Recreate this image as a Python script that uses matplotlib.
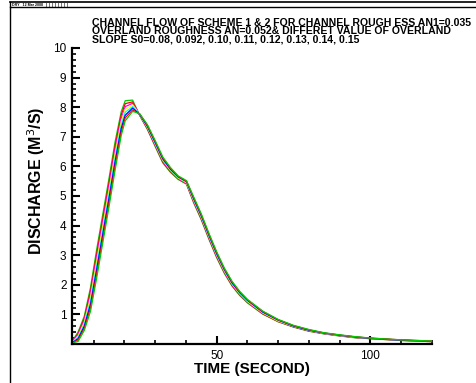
import matplotlib
matplotlib.use("Agg")
import matplotlib.pyplot as plt
from matplotlib.lines import Line2D
from matplotlib.ticker import MultipleLocator, FixedLocator

plt.rcParams['font.family'] = ['Liberation Sans', 'DejaVu Sans']

times = [3, 5, 7, 9, 11, 13, 15, 17, 19, 20.3, 22.7, 25, 27.5, 30, 32.5, 35, 37.5,
         40.2, 42.5, 45, 47.5, 50, 52.5, 55, 57.5, 60, 65, 70, 75, 80, 85, 90, 95,
         100, 105, 110, 115, 120]

slopes = ["0.15", "0.14", "0.13", "0.12", "0.11", "0.10", "0.092", "0.08"]

q_015 = [0.08, 0.41, 0.94, 1.90, 3.18, 4.38, 5.58, 6.83, 7.85, 8.22, 8.24, 7.72, 7.25,
         6.68, 6.12, 5.80, 5.56, 5.40, 4.78, 4.20, 3.54, 2.92, 2.39, 1.96, 1.64, 1.39,
         1.01, 0.75, 0.57, 0.43, 0.34, 0.27, 0.21, 0.18, 0.15, 0.12, 0.10, 0.08]
q_014 = [0.07, 0.36, 0.87, 1.79, 3.04, 4.24, 5.44, 6.69, 7.74, 8.12, 8.18, 7.73, 7.27,
         6.71, 6.15, 5.82, 5.58, 5.42, 4.81, 4.23, 3.57, 2.95, 2.42, 1.98, 1.66, 1.41,
         1.02, 0.76, 0.58, 0.44, 0.35, 0.28, 0.22, 0.18, 0.15, 0.12, 0.10, 0.08]
q_013 = [0.06, 0.32, 0.80, 1.67, 2.90, 4.10, 5.30, 6.55, 7.62, 8.02, 8.13, 7.74, 7.30,
         6.74, 6.18, 5.85, 5.59, 5.43, 4.84, 4.26, 3.60, 2.98, 2.44, 2.01, 1.68, 1.42,
         1.04, 0.77, 0.59, 0.45, 0.35, 0.28, 0.22, 0.19, 0.16, 0.13, 0.11, 0.09]
q_012 = [0.05, 0.27, 0.73, 1.56, 2.77, 3.97, 5.17, 6.42, 7.51, 7.93, 8.08, 7.75, 7.32,
         6.77, 6.21, 5.87, 5.61, 5.45, 4.87, 4.29, 3.63, 3.01, 2.47, 2.03, 1.70, 1.44,
         1.05, 0.78, 0.60, 0.46, 0.36, 0.29, 0.23, 0.19, 0.16, 0.13, 0.11, 0.09]
q_011 = [0.05, 0.23, 0.67, 1.45, 2.63, 3.83, 5.03, 6.28, 7.40, 7.83, 8.02, 7.75, 7.34,
         6.79, 6.23, 5.89, 5.63, 5.47, 4.89, 4.31, 3.65, 3.03, 2.49, 2.05, 1.72, 1.46,
         1.07, 0.80, 0.60, 0.46, 0.36, 0.29, 0.23, 0.19, 0.16, 0.13, 0.11, 0.09]
q_010 = [0.04, 0.18, 0.60, 1.33, 2.50, 3.70, 4.90, 6.15, 7.28, 7.73, 7.97, 7.76, 7.36,
         6.82, 6.26, 5.91, 5.65, 5.49, 4.92, 4.34, 3.68, 3.06, 2.52, 2.07, 1.74, 1.48,
         1.08, 0.81, 0.61, 0.47, 0.37, 0.30, 0.24, 0.19, 0.16, 0.13, 0.11, 0.09]
q_0092 = [0.04, 0.14, 0.53, 1.22, 2.36, 3.56, 4.76, 6.01, 7.17, 7.64, 7.91, 7.77, 7.39,
          6.85, 6.29, 5.94, 5.66, 5.50, 4.95, 4.37, 3.71, 3.09, 2.54, 2.10, 1.76, 1.49,
          1.10, 0.82, 0.62, 0.48, 0.37, 0.30, 0.24, 0.20, 0.17, 0.14, 0.12, 0.10]
q_008 = [0.03, 0.09, 0.46, 1.10, 2.22, 3.42, 4.62, 5.87, 7.05, 7.54, 7.86, 7.78, 7.41,
         6.88, 6.32, 5.96, 5.68, 5.52, 4.98, 4.40, 3.74, 3.12, 2.57, 2.12, 1.78, 1.51,
         1.11, 0.83, 0.63, 0.49, 0.38, 0.31, 0.25, 0.20, 0.17, 0.14, 0.12, 0.10]

series = [q_015, q_014, q_013, q_012, q_011, q_010, q_0092, q_008]
colors = ["#00cc00", "#ff0000", "#ff00ff", "#ffff00", "#00ffff", "#0000ff", "#ff0000", "#00cc00"]

fig = plt.figure(figsize=(4.77, 3.83), dpi=100)
ax = fig.add_axes([72 / 477, 39 / 383, 360 / 477, 296 / 383])

for q, c, s in zip(series, colors, slopes):
    ax.plot(times, q, color=c, lw=0.9, label="S0=" + s)

ax.set_xlim(3, 120)
ax.set_ylim(0, 10)
ax.spines['top'].set_visible(False)
ax.spines['right'].set_visible(False)
ax.spines['left'].set_linewidth(1.6)
ax.spines['bottom'].set_linewidth(1.6)

ax.xaxis.set_major_locator(FixedLocator([50, 100]))
ax.xaxis.set_minor_locator(FixedLocator([10, 20, 30, 40, 60, 70, 80, 90, 110, 120]))
ax.yaxis.set_major_locator(FixedLocator([1, 2, 3, 4, 5, 6, 7, 8, 9, 10]))
ax.yaxis.set_minor_locator(MultipleLocator(0.2))
ax.tick_params(which='major', direction='in', length=6, width=1.5, labelsize=8.5)
ax.tick_params(which='minor', direction='in', length=3, width=1.2)
ax.tick_params(axis='y', which='major', pad=4)
ax.tick_params(axis='x', which='major', pad=4)

ax.set_xlabel("TIME (SECOND)", fontsize=11, fontweight='bold', labelpad=0)
ax.set_ylabel("DISCHARGE (M$^3$/S)", fontsize=11.5, fontweight='bold')
ax.yaxis.set_label_coords(-0.07, 0.55)

title_lines = ["CHANNEL FLOW OF SCHEME 1 & 2 FOR CHANNEL ROUGH ESS AN1=0.035",
               "OVERLAND ROUGHNESS AN=0.052& DIFFERET VALUE OF OVERLAND",
               "SLOPE S0=0.08, 0.092, 0.10, 0.11, 0.12, 0.13, 0.14, 0.15"]
for i, line in enumerate(title_lines):
    fig.text(92 / 477, 1 - (25.5 + 8.6 * i) / 383, line, fontsize=7.6,
             fontweight='bold', va='baseline', ha='left')

# tecplot frame header
fig.text(12 / 477, 1 - 6 / 383, "DRY   12 Mar 2008   |  |  |  |  |  |  |  |",
         fontsize=2.6, fontweight='bold', va='baseline')
fig.add_artist(Line2D([10 / 477, 1], [1 - 1.5 / 383, 1 - 1.5 / 383], color='black', lw=1.2))
fig.add_artist(Line2D([10 / 477, 1], [1 - 7 / 383, 1 - 7 / 383], color='black', lw=1.0))
fig.add_artist(Line2D([10 / 477, 10 / 477], [0, 1 - 1.5 / 383], color='black', lw=1.0))

fig.savefig("out.png", dpi=100)
